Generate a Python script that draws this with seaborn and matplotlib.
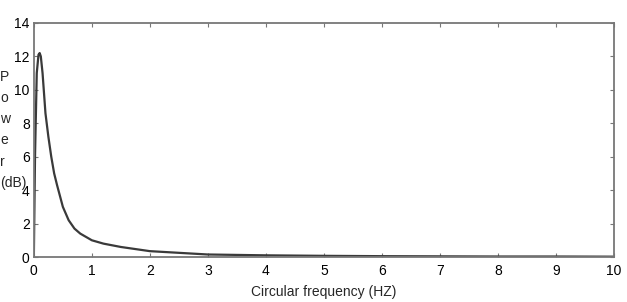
import matplotlib
matplotlib.use("Agg")
import matplotlib.pyplot as plt
import seaborn as sns
import pandas as pd

freq = [0, 0.02, 0.05, 0.08, 0.1, 0.12, 0.15, 0.2, 0.25, 0.3, 0.35, 0.4, 0.5, 0.6, 0.7,
        0.8, 1.0, 1.2, 1.5, 2.0, 2.5, 3.0, 4.0, 5.0, 6.0, 7.0, 8.0, 9.0, 10.0]
power = [0, 6.0, 11.0, 12.1, 12.2, 12.0, 11.0, 8.6, 7.2, 6.0, 5.0, 4.3, 3.0, 2.2, 1.7,
         1.4, 1.0, 0.8, 0.6, 0.35, 0.25, 0.15, 0.1, 0.07, 0.05, 0.04, 0.03, 0.03, 0.02]
xticks = [0, 1, 2, 3, 4, 5, 6, 7, 8, 9, 10]
yticks = [0, 2, 4, 6, 8, 10, 12, 14]

sns.set_style("white")
plt.rcParams['font.family'] = ['Liberation Sans', 'DejaVu Sans']

df = pd.DataFrame({"freq": freq, "power": power})
fig = plt.figure(figsize=(6.27, 3.02), dpi=100)
ax = fig.add_axes([0.054, 0.149, 0.925, 0.775])
sns.lineplot(data=df, x="freq", y="power", ax=ax, color="#3a3a3a", linewidth=1.6)

ax.set_xlim(0, 10)
ax.set_ylim(0, 14)
ax.set_xticks(xticks)
ax.set_yticks(yticks)
ax.tick_params(axis="x", pad=5)
ax.tick_params(axis="y", pad=3)
ax.tick_params(direction="in", length=3, width=0.8, color="#777777",
               labelsize=10, labelcolor="black", top=True, right=True,
               bottom=True, left=True)
for s in ax.spines.values():
    s.set_color("#777777")
    s.set_linewidth(1.3)
ax.set_xlabel("Circular frequency (HZ)", fontsize=10, labelpad=5)
ax.set_ylabel("")
fig.text(0.0, 0.570, "P\no\nw\ne\nr\n(dB)", fontsize=10, ha="left", va="center",
         multialignment="left", linespacing=1.66)

fig.savefig("out.png", dpi=100)
